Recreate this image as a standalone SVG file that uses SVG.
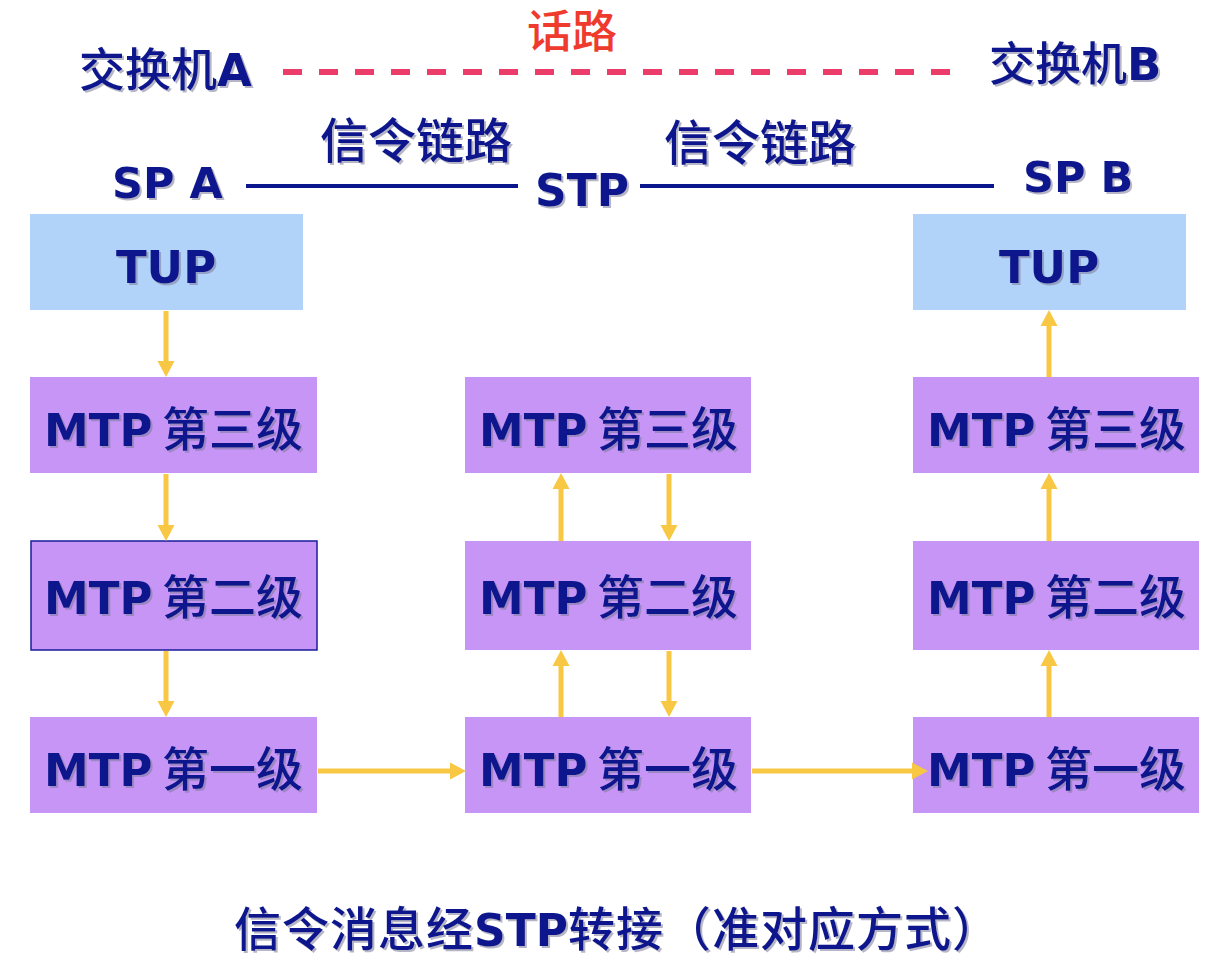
<svg xmlns="http://www.w3.org/2000/svg" width="1228" height="974" viewBox="0 0 1228 974">
<defs>
<style>
.t{fill:#0A168C;filter:url(#sh)}
.lat{font-family:"DejaVu Sans","Liberation Sans",sans-serif;font-weight:bold}
.cjk{font-family:"Noto Sans CJK SC","Noto Sans",sans-serif;font-weight:500}
.tup{fill:#B1D3F9}
.mtp{fill:#C695F6}
.conn{stroke:#F8C743;stroke-width:5;fill:none}
.head{fill:#F8C743}
</style>
<filter id="sh" x="-10%" y="-10%" width="130%" height="140%">
<feDropShadow dx="2" dy="2" stdDeviation="0.7" flood-color="#7a7a9a" flood-opacity="0.55"/>
</filter>
<path id="hd" d="M-8.5,-16 L8.5,-16 L0,0 Z" class="head"/>
</defs>
<rect width="1228" height="974" fill="#FFFFFF"/>

<g id="titles">
<text x="527" y="48" class="cjk" font-size="45" fill="#EE3B2E">话路</text>
<line x1="283" y1="72" x2="952" y2="72" stroke="#EC3C6A" stroke-width="6" stroke-dasharray="19,17"/>
<text x="79" y="86" class="t"><tspan class="cjk" font-size="46">交换机</tspan><tspan class="lat" font-size="45">A</tspan></text>
<text x="989" y="80" class="t"><tspan class="cjk" font-size="46">交换机</tspan><tspan class="lat" font-size="45">B</tspan></text>
<text x="320" y="158" class="t cjk" font-size="48">信令链路</text>
<text x="664" y="160" class="t cjk" font-size="48">信令链路</text>
<text x="112" y="198" class="t lat" font-size="43">SP A</text>
<text x="535" y="206" class="t lat" font-size="44">STP</text>
<text x="1023" y="192" class="t lat" font-size="43">SP B</text>
<line x1="246" y1="186" x2="518" y2="186" stroke="#0A168C" stroke-width="4"/>
<line x1="640" y1="186" x2="994" y2="186" stroke="#0A168C" stroke-width="4"/>
<text x="234" y="946" class="t" letter-spacing="1"><tspan class="cjk" font-size="47">信令消息经</tspan><tspan class="lat" font-size="44" letter-spacing="0">STP</tspan><tspan class="cjk" font-size="47">转接（准对应方式）</tspan></text>
</g>

<g id="spa-tup"><rect x="30" y="214" width="273" height="96" class="tup"/><text x="166" y="283" text-anchor="middle" class="t lat" font-size="45">TUP</text></g>
<g id="spa-mtp3"><rect x="30" y="377" width="287" height="96" class="mtp"/><text x="44" y="446" class="t"><tspan class="lat" font-size="45">MTP</tspan><tspan x="162" class="cjk" font-size="47">第三级</tspan></text></g>
<g id="spa-mtp2"><rect x="31" y="541" width="286" height="109" class="mtp" stroke="#1A1C9A" stroke-width="1.5"/><text x="44" y="614" class="t"><tspan class="lat" font-size="45">MTP</tspan><tspan x="162" class="cjk" font-size="47">第二级</tspan></text></g>
<g id="spa-mtp1"><rect x="30" y="717" width="287" height="96" class="mtp"/><text x="44" y="786" class="t"><tspan class="lat" font-size="45">MTP</tspan><tspan x="162" class="cjk" font-size="47">第一级</tspan></text></g>

<g id="stp-mtp3"><rect x="465" y="377" width="286" height="96" class="mtp"/><text x="479" y="446" class="t"><tspan class="lat" font-size="45">MTP</tspan><tspan x="597" class="cjk" font-size="47">第三级</tspan></text></g>
<g id="stp-mtp2"><rect x="465" y="541" width="286" height="109" class="mtp"/><text x="479" y="614" class="t"><tspan class="lat" font-size="45">MTP</tspan><tspan x="597" class="cjk" font-size="47">第二级</tspan></text></g>
<g id="stp-mtp1"><rect x="465" y="717" width="286" height="96" class="mtp"/><text x="479" y="786" class="t"><tspan class="lat" font-size="45">MTP</tspan><tspan x="597" class="cjk" font-size="47">第一级</tspan></text></g>

<g id="spb-tup"><rect x="913" y="214" width="273" height="96" class="tup"/><text x="1049" y="283" text-anchor="middle" class="t lat" font-size="45">TUP</text></g>
<g id="spb-mtp3"><rect x="913" y="377" width="286" height="96" class="mtp"/><text x="927" y="446" class="t"><tspan class="lat" font-size="45">MTP</tspan><tspan x="1045" class="cjk" font-size="47">第三级</tspan></text></g>
<g id="spb-mtp2"><rect x="913" y="541" width="286" height="109" class="mtp"/><text x="927" y="614" class="t"><tspan class="lat" font-size="45">MTP</tspan><tspan x="1045" class="cjk" font-size="47">第二级</tspan></text></g>
<g id="spb-mtp1"><rect x="913" y="717" width="286" height="96" class="mtp"/><text x="927" y="786" class="t"><tspan class="lat" font-size="45">MTP</tspan><tspan x="1045" class="cjk" font-size="47">第一级</tspan></text></g>

<g id="connectors">
<line x1="166" y1="311" x2="166" y2="362" class="conn"/>
<line x1="166" y1="474" x2="166" y2="526" class="conn"/>
<line x1="166" y1="651" x2="166" y2="702" class="conn"/>
<line x1="318" y1="771" x2="450" y2="771" class="conn"/>
<line x1="561" y1="541" x2="561" y2="488" class="conn"/>
<line x1="669" y1="474" x2="669" y2="526" class="conn"/>
<line x1="561" y1="717" x2="561" y2="665" class="conn"/>
<line x1="669" y1="651" x2="669" y2="702" class="conn"/>
<line x1="752" y1="771" x2="912" y2="771" class="conn"/>
<line x1="1049" y1="717" x2="1049" y2="665" class="conn"/>
<line x1="1049" y1="541" x2="1049" y2="488" class="conn"/>
<line x1="1049" y1="377" x2="1049" y2="325" class="conn"/>
<use href="#hd" x="166" y="377"/>
<use href="#hd" x="166" y="541"/>
<use href="#hd" x="166" y="717"/>
<use href="#hd" transform="translate(466,771) rotate(-90)"/>
<use href="#hd" transform="translate(561,473) rotate(180)"/>
<use href="#hd" x="669" y="541"/>
<use href="#hd" transform="translate(561,650) rotate(180)"/>
<use href="#hd" x="669" y="717"/>
<use href="#hd" transform="translate(928,771) rotate(-90)"/>
<use href="#hd" transform="translate(1049,650) rotate(180)"/>
<use href="#hd" transform="translate(1049,473) rotate(180)"/>
<use href="#hd" transform="translate(1049,310) rotate(180)"/>
</g>
</svg>
